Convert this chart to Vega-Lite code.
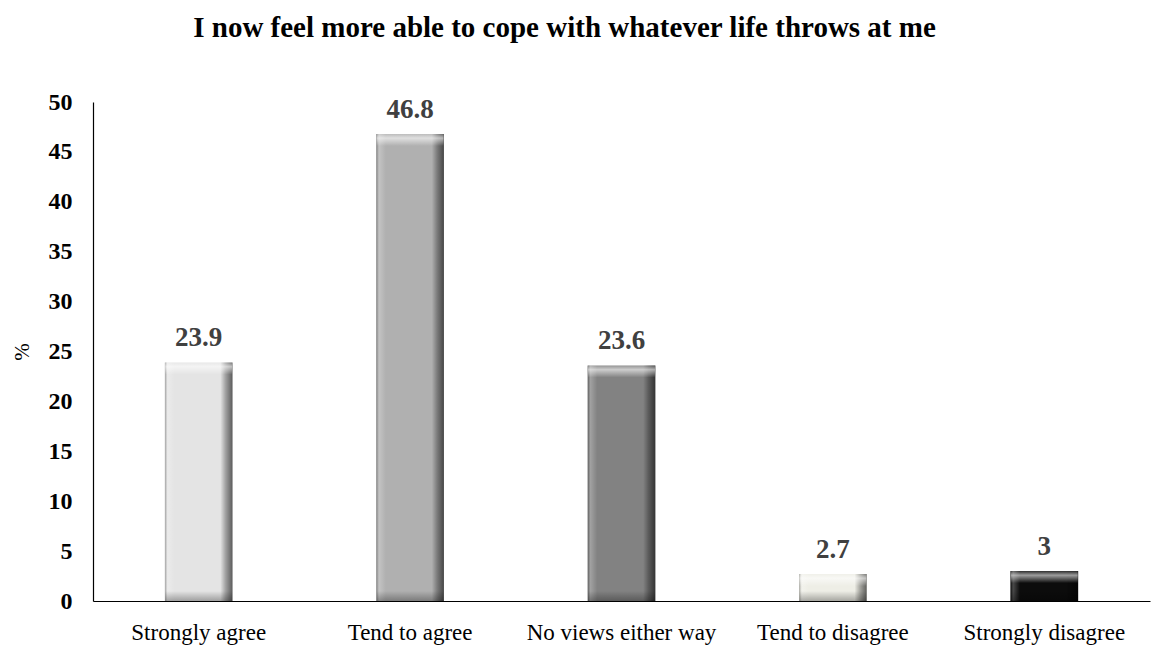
{
  "$schema": "https://vega.github.io/schema/vega-lite/v6.json",
  "autosize": "none",
  "width": 1057,
  "height": 499,
  "padding": {"left": 93, "top": 102, "right": 3, "bottom": 45},
  "background": "white",
  "config": {"view": {"stroke": null}, "font": "Liberation Serif"},
  "title": {
    "text": "I now feel more able to cope with whatever life throws at me",
    "font": "Liberation Serif",
    "fontSize": 29,
    "fontWeight": "bold",
    "color": "#000000",
    "anchor": "middle",
    "frame": "group",
    "dx": -57,
    "offset": 47
  },
  "data": {
    "values": [
      {"category": "Strongly agree", "value": 23.9},
      {"category": "Tend to agree", "value": 46.8},
      {"category": "No views either way", "value": 23.6},
      {"category": "Tend to disagree", "value": 2.7},
      {"category": "Strongly disagree", "value": 3}
    ]
  },
  "encoding": {
    "x": {
      "field": "category",
      "type": "nominal",
      "sort": null,
      "scale": {"paddingInner": 0.68, "paddingOuter": 0.34},
      "axis": {
        "title": null,
        "labelAngle": 0,
        "labelFont": "Liberation Serif",
        "labelFontSize": 23,
        "labelColor": "#000000",
        "labelPadding": 20,
        "labelLimit": 0,
        "ticks": false,
        "domainColor": "#000000",
        "domainWidth": 1.2
      }
    },
    "y": {
      "field": "value",
      "type": "quantitative",
      "scale": {"domain": [0, 50], "nice": false},
      "axis": {
        "title": "%",
        "titleFont": "Liberation Serif",
        "titleFontSize": 21,
        "titleFontWeight": "normal",
        "titleColor": "#000000",
        "titlePadding": 16,
        "values": [0, 5, 10, 15, 20, 25, 30, 35, 40, 45, 50],
        "labelFont": "Liberation Serif",
        "labelFontSize": 24,
        "labelFontWeight": "bold",
        "labelColor": "#000000",
        "labelPadding": 21,
        "ticks": false,
        "grid": false,
        "domainColor": "#000000",
        "domainWidth": 1.2
      }
    }
  },
  "layer": [
    {
      "mark": {"type": "bar"},
      "encoding": {
        "color": {
          "field": "category",
          "type": "nominal",
          "sort": null,
          "scale": {
            "domain": ["Strongly agree", "Tend to agree", "No views either way", "Tend to disagree", "Strongly disagree"],
            "range": ["#e4e4e4", "#b0b0b0", "#828282", "#eeeee6", "#0c0c0c"]
          },
          "legend": null
        }
      }
    },
    {
      "mark": {
        "type": "bar",
        "color": {
          "gradient": "linear",
          "x1": 0, "y1": 0, "x2": 1, "y2": 0,
          "stops": [
            {"offset": 0, "color": "rgba(0,0,0,0.30)"},
            {"offset": 0.04, "color": "rgba(255,255,255,0.25)"},
            {"offset": 0.14, "color": "rgba(255,255,255,0)"},
            {"offset": 0.82, "color": "rgba(0,0,0,0)"},
            {"offset": 0.9, "color": "rgba(0,0,0,0.3)"},
            {"offset": 1, "color": "rgba(0,0,0,0.6)"}
          ]
        }
      }
    },
    {
      "mark": {
        "type": "tick",
        "orient": "horizontal",
        "size": 67,
        "thickness": 12,
        "yOffset": 6,
        "color": {
          "gradient": "linear",
          "x1": 0, "y1": 0, "x2": 0, "y2": 1,
          "stops": [
            {"offset": 0, "color": "rgba(255,255,255,0.15)"},
            {"offset": 0.35, "color": "rgba(255,255,255,0.6)"},
            {"offset": 1, "color": "rgba(255,255,255,0)"}
          ]
        },
        "opacity": 1
      }
    },
    {
      "mark": {
        "type": "tick",
        "orient": "horizontal",
        "size": 67,
        "thickness": 10,
        "yOffset": -5,
        "color": {
          "gradient": "linear",
          "x1": 0, "y1": 0, "x2": 0, "y2": 1,
          "stops": [
            {"offset": 0, "color": "rgba(0,0,0,0)"},
            {"offset": 1, "color": "rgba(0,0,0,0.3)"}
          ]
        },
        "opacity": 1
      },
      "encoding": {"y": {"datum": 0}}
    },
    {
      "mark": {
        "type": "text",
        "baseline": "alphabetic",
        "dy": -16,
        "font": "Liberation Serif",
        "fontSize": 27,
        "fontWeight": "bold",
        "color": "#404040"
      },
      "encoding": {"text": {"field": "value", "type": "quantitative"}}
    }
  ]
}
